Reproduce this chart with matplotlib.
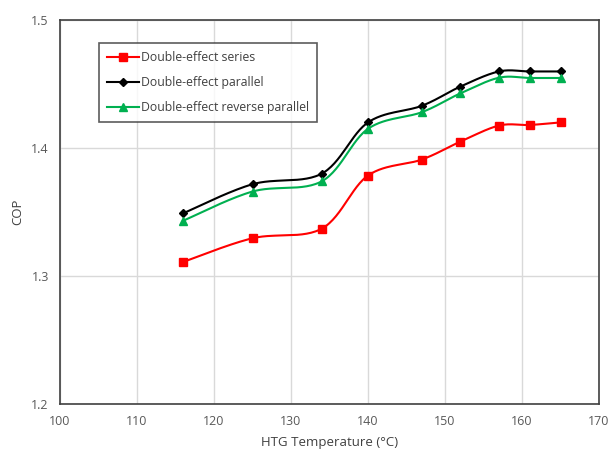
import matplotlib.pyplot as plt
import numpy as np

plt.rcParams['font.family'] = ['Open Sans', 'DejaVu Sans']

temps = [116, 125, 134, 140, 147, 152, 157, 161, 165]
cop_series = [1.311, 1.3295, 1.337, 1.3785, 1.391, 1.405, 1.4175, 1.418, 1.420]
cop_parallel = [1.349, 1.3717, 1.380, 1.420, 1.433, 1.448, 1.4598, 1.4598, 1.4598]
cop_reverse = [1.3432, 1.366, 1.374, 1.415, 1.428, 1.4427, 1.4549, 1.4547, 1.4547]


# smooth line like excel (catmull-rom as bezier)
def smooth(x, y, n=30):
    x = np.asarray(x, float)
    y = np.asarray(y, float)
    px = np.concatenate([[x[0]], x, [x[-1]]])
    py = np.concatenate([[y[0]], y, [y[-1]]])
    xs, ys = [], []
    t = np.linspace(0, 1, n)
    for i in range(1, len(px) - 2):
        p0 = np.array([px[i], py[i]])
        p3 = np.array([px[i + 1], py[i + 1]])
        p1 = p0 + (p3 - np.array([px[i - 1], py[i - 1]])) / 6
        p2 = p3 - (np.array([px[i + 2], py[i + 2]]) - p0) / 6
        b = (np.outer((1 - t) ** 3, p0) + np.outer(3 * (1 - t) ** 2 * t, p1)
             + np.outer(3 * (1 - t) * t ** 2, p2) + np.outer(t ** 3, p3))
        xs.extend(b[:, 0])
        ys.extend(b[:, 1])
    return xs, ys


fig = plt.figure(figsize=(6.09, 4.53), dpi=100)
ax = fig.add_axes([60 / 609, 1 - 404 / 453, 539 / 609, 384 / 453])

styles = [
    (cop_series, '#ff0000', 's', 6, 'Double-effect series'),
    (cop_parallel, '#000000', 'D', 4, 'Double-effect parallel'),
    (cop_reverse, '#00b050', '^', 6, 'Double-effect reverse parallel'),
]
for vals, col, mk, ms, lab in styles:
    sx, sy = smooth(temps, vals)
    ax.plot(sx, sy, color=col, lw=1.5, zorder=3)
    ax.plot(temps, vals, ls='none', marker=mk, ms=ms, color=col, zorder=4)
    ax.plot([], [], color=col, lw=1.5, marker=mk, ms=ms, label=lab)

ax.set_xlim(100, 170)
ax.set_ylim(1.2, 1.5)
ax.set_xticks(range(100, 171, 10))
ax.set_yticks([1.2, 1.3, 1.4, 1.5])
ax.set_yticklabels(['1.2', '1.3', '1.4', '1.5'])
ax.grid(True, color='#d9d9d9', lw=1)
ax.set_axisbelow(True)
ax.tick_params(length=0, labelsize=9, colors='#595959', pad=8)
for s in ax.spines.values():
    s.set_color('#404040')
    s.set_linewidth(1.2)

ax.set_xlabel('HTG Temperature (°C)', fontsize=9.5, color='#404040', labelpad=6)
ax.set_ylabel('COP', fontsize=9.5, color='#404040', labelpad=5)

leg = ax.legend(loc='upper left', bbox_to_anchor=(39 / 539, 1 - 23 / 384),
                borderaxespad=0, fontsize=8.8,
                frameon=True, fancybox=False, edgecolor='#333333',
                handlelength=2.6, labelspacing=1.0, borderpad=0.65,
                handletextpad=0.2)
leg.get_frame().set_linewidth(1.2)
for t in leg.get_texts():
    t.set_color('#404040')

plt.savefig('out.png', dpi=100)
